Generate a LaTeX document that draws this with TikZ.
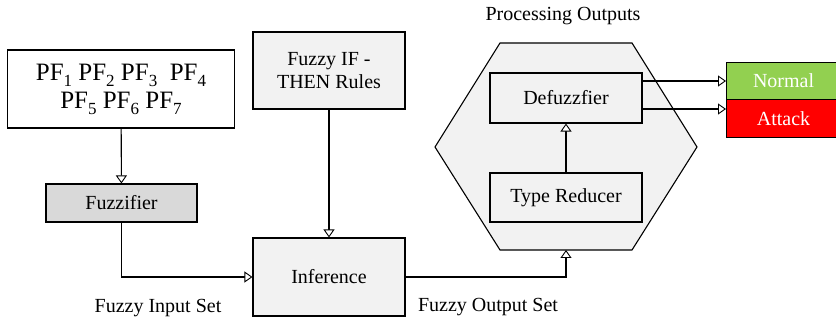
\documentclass[tikz,border=0pt]{standalone}
\usepackage{fontspec}
\setmainfont{Liberation Serif}
\usepackage{xcolor}
\usetikzlibrary{positioning, arrows.meta, calc}
\definecolor{boxGrey}{RGB}{242, 242, 242}
\definecolor{fuzzGrey}{RGB}{217, 217, 217}
\definecolor{okGreen}{RGB}{146, 208, 80}
\definecolor{atkRed}{RGB}{255, 0, 0}
\newcommand{\pfsub}[1]{PF\raisebox{-6pt}{\fontsize{17}{17}\selectfont #1}}

\begin{document}
\begin{tikzpicture}[
        x=1pt, y=-1pt,
        font=\fontsize{20}{23}\selectfont,
        b/.style={rectangle, draw, line width=1.1pt, fill=boxGrey, align=center, inner sep=2pt},
        arr/.style={-{Triangle[fill=white, length=8pt, width=11pt, line width=0.9pt]}, line width=1.1pt}
    ]
    \useasboundingbox (0,0) rectangle (836,320);
    \node[b, fill=white, minimum width=227, minimum height=78, font=\fontsize{25}{28}\selectfont] (pf) at (121,89)
        {\pfsub{1} \pfsub{2} \pfsub{3}~ \pfsub{4}\\\pfsub{5} \pfsub{6} \pfsub{7}};
    \node[b, fill=fuzzGrey, minimum width=151, minimum height=38] (fuzz) at (121.5,203) {Fuzzifier};
    \node[b, minimum width=152, minimum height=77] (rules) at (329,70.5) {Fuzzy IF -\\THEN Rules};
    \node[b, minimum width=152, minimum height=78] (inf) at (329,277) {Inference};
    % processing block
    \draw[line width=1.1pt, fill=boxGrey] (500,43) -- (632,43) -- (697,147) -- (632,250) -- (500,250) -- (435,147) -- cycle;
    \coordinate (hexbot) at (566,250);
    \node[b, minimum width=152, minimum height=50] (defuzz) at (566,98) {Defuzzfier};
    \node[b, minimum width=152, minimum height=49] (tr) at (566,197.5) {Type Reducer};
    \node[b, fill=okGreen, text=white, minimum width=114, minimum height=37, anchor=north west] (normal) at (726,62) {Normal};
    \node[b, fill=atkRed, text=white, minimum width=114, minimum height=38, anchor=north west] (attack) at (726,99) {Attack};
    \draw[arr] (pf) -- (fuzz);
    \draw[arr] (fuzz.south) |- (inf.west);
    \draw[arr] (rules) -- (inf);
    \draw[arr] (inf.east) -| (hexbot);
    \draw[arr] (tr) -- (defuzz);
    \draw[arr] ([yshift=17pt]defuzz.east) -- ([yshift=17pt]defuzz.east -| normal.west);
    \draw[arr] ([yshift=-11pt]defuzz.east) -- ([yshift=-11pt]defuzz.east -| attack.west);
    \node (insetlbl) at (158,308) {Fuzzy Input Set};
    \node (outsetlbl) at (488,307) {Fuzzy Output Set};
    \node (proclbl) at (563,16) {Processing Outputs};
\end{tikzpicture}
\end{document}
